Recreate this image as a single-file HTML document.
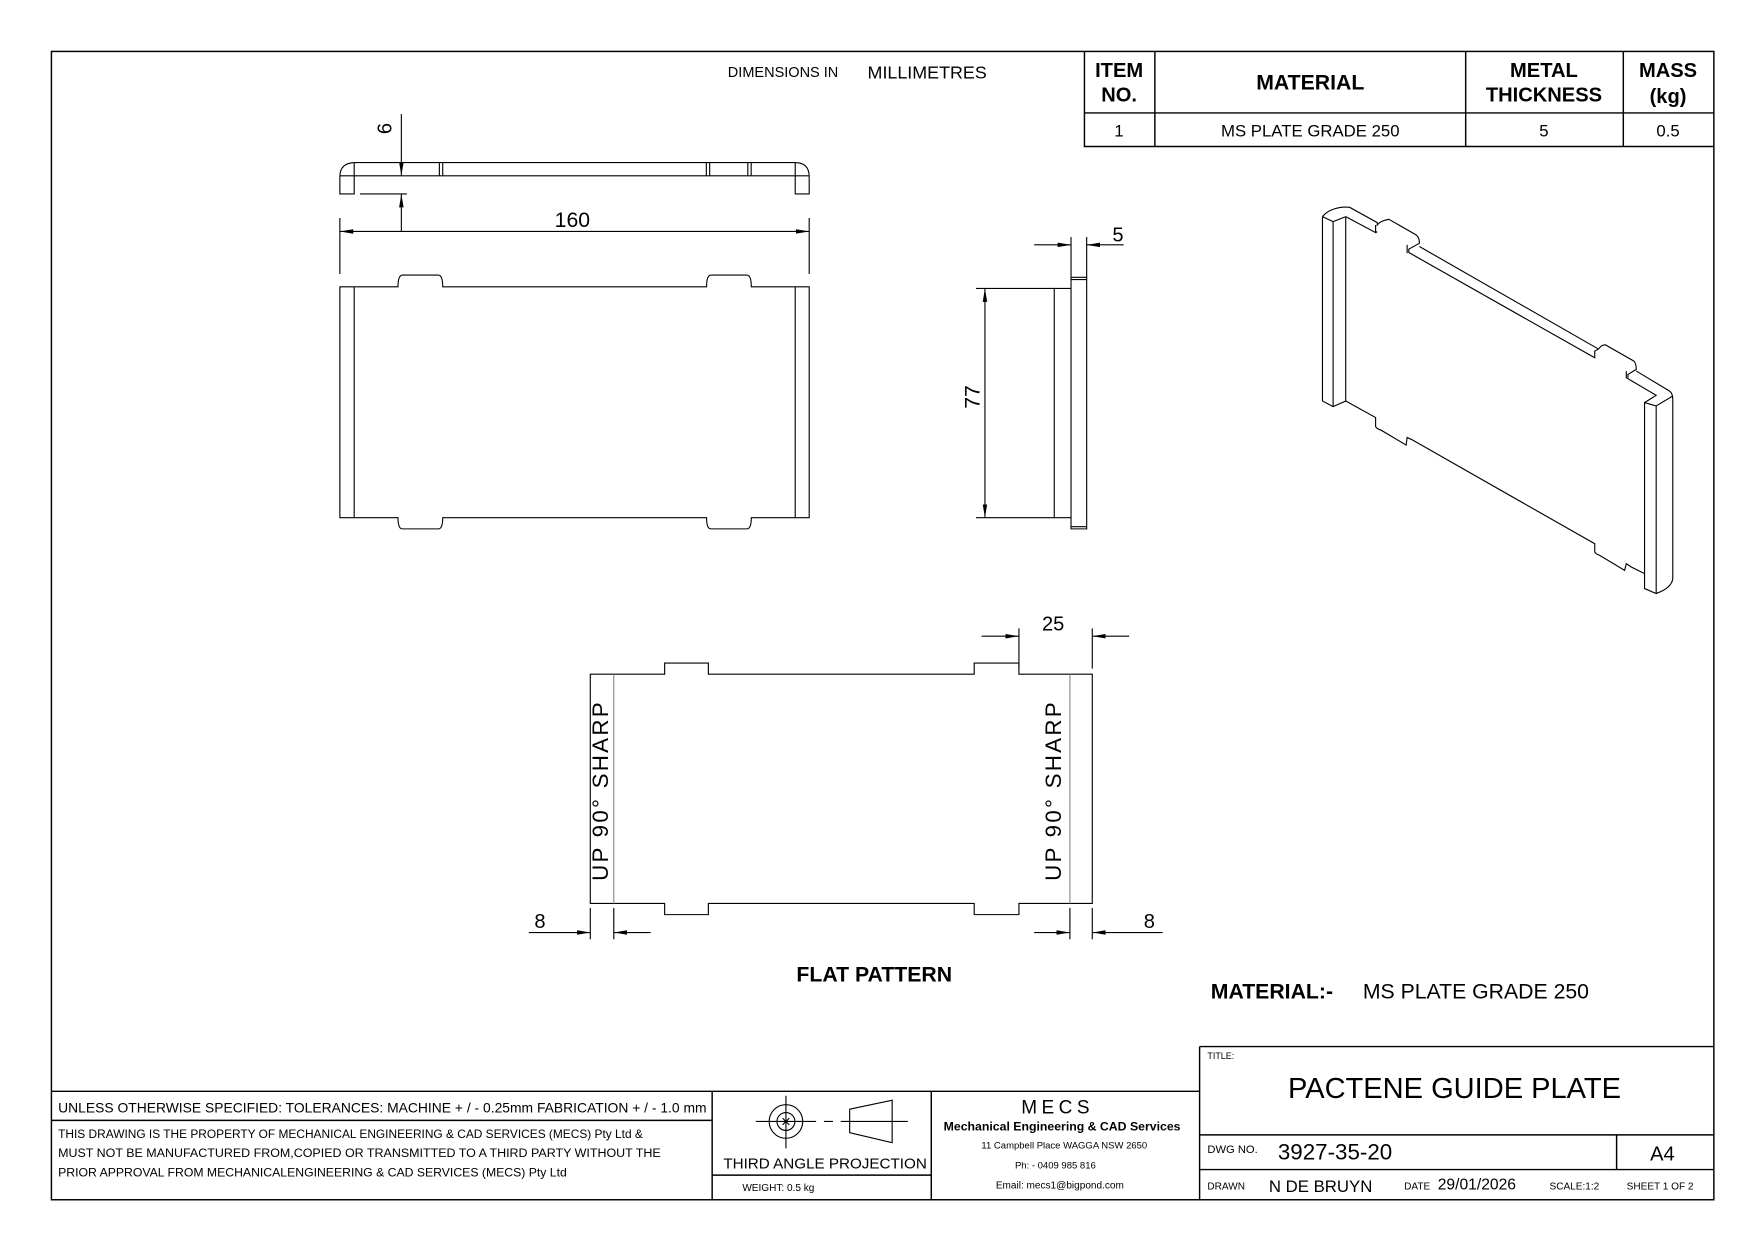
<!DOCTYPE html>
<html><head><meta charset="utf-8"><style>
html,body{margin:0;padding:0;background:#fff;}
svg{display:block;}
text{font-family:"Liberation Sans",sans-serif;fill:#000;}
.b{font-weight:bold;}
</style></head><body>
<svg width="1753" height="1240" viewBox="0 0 1568 1109" preserveAspectRatio="none" xmlns="http://www.w3.org/2000/svg">
<defs>
<marker id="ar" viewBox="0 0 12 6" refX="12" refY="3" markerWidth="12" markerHeight="6" markerUnits="userSpaceOnUse" orient="auto-start-reverse"><path d="M0,1 L12,3 L0,5 z" fill="#000"/></marker>
</defs>
<g fill="none" stroke="#000" stroke-width="1">
<rect x="46" y="46" width="1487" height="1027" stroke-width="1.3"/>
<path d="M970,46 V131 H1533 M970,101 H1533 M1033,46 V131 M1311,46 V131 M1452,46 V131" stroke-width="1.3"/>

<path d="M304,173.5 V158 Q304,145.4 318,145.4 H711 Q723.8,145.4 723.8,158 V173.5 H711.3 V157.2 H316.8 V173.5 Z"/>
<path d="M304,157.2 H316.8 M711.3,157.2 H723.8 M316.8,145.4 V157.2 M711.3,145.4 V157.2 M393,145.4 V157.2 M396,145.4 V157.2 M631.8,145.4 V157.2 M634.8,145.4 V157.2 M668.9,145.4 V157.2 M671.9,145.4 V157.2"/>
<path d="M359,102 V157.2" marker-end="url(#ar)"/>
<path d="M359,207 V173.5" marker-end="url(#ar)"/>
<path d="M322,173.5 H364"/>
<path d="M304,195 V245 M723.8,195 V245"/>
<path d="M304,207 H723.8" marker-start="url(#ar)" marker-end="url(#ar)"/>

<path d="M304,256.5 H356 Q356,246 360,246 H392 Q396,246 396,256.5 H632 Q632,246 636,246 H668 Q672,246 672,256.5 H723.8 V463 H672 Q672,473 668,473 H636 Q632,473 632,463 H396 Q396,473 392,473 H360 Q356,473 356,463 H304 Z"/>
<path d="M316.8,256.5 V463 M711.3,256.5 V463"/>

<path d="M958,248 H972 V473 H958 Z M943,258 H958 V463 H943 Z M958,250 H972 M958,471 H972"/>
<path d="M873,258 H943 M873,463 H943"/>
<path d="M881,258 V463" marker-start="url(#ar)" marker-end="url(#ar)"/>
<path d="M958,212 V248 M972,212 V248"/>
<path d="M925,219 H958" marker-end="url(#ar)"/>
<path d="M1005,219 H972" marker-end="url(#ar)"/>

<g transform="translate(1174,170) scale(0.297)" stroke-width="3.4">
<path d="M30,80 L30,635 L62,652 L100,635 L100,80 M62,95 L62,652 M30,80 L62,95 L100,80"/>
<path d="M30,80 C45,60 80,48 112,52 L195,98 L195,105 Q205,92 230,88 L312,135 Q322,142 322,160 L290,178 L290,188 L850,505 L850,485 L862,478 Q870,466 882,466 L968,515 Q975,522 975,540 L950,555 L950,565 M975,545 L1075,605 Q1085,612 1085,630 L1085,1170 Q1082,1198 1035,1215 L1000,1200 L1000,640 L1035,650 L1085,620 M1035,650 L1035,1215"/>
<path d="M100,80 L190,128 L190,105 M190,128 L195,125 M322,170 L860,478 M285,165 L285,190 M945,545 L945,565 L1035,618 L1000,640"/>
<path d="M100,635 L190,685 L190,712 Q195,720 205,722 L282,768 L285,745 L300,752 L850,1065 L850,1090 Q855,1097 865,1100 L940,1145 L945,1125 L960,1135 L1000,1155"/>
</g>

<path d="M528,603 H594.5 V593 H633.6 V603 H871.4 V593 H911.4 V603 H977 V808 H911.4 V818 H871.4 V808 H633.6 V818 H594.5 V808 H528 Z"/>
<path d="M549,603 V808 M957,603 V808" stroke="#888"/>
<path d="M911.4,562 V598 M977,562 V598"/>
<path d="M878,569 H911.4" marker-end="url(#ar)"/>
<path d="M1010,569 H977" marker-end="url(#ar)"/>
<path d="M528,812 V840 M549,812 V840 M957,812 V840 M977,812 V840"/>
<path d="M473,834 H528" marker-end="url(#ar)"/>
<path d="M582,834 H549" marker-end="url(#ar)"/>
<path d="M925,834 H957" marker-end="url(#ar)"/>
<path d="M1040,834 H977" marker-end="url(#ar)"/>

<path d="M1073,936 H1533 M1073,936 V1073 M46,976 H1073 M46,1002 H637 M637,976 V1073 M833,976 V1073 M637,1051 H833 M1073,1015 H1533 M1073,1046 H1533 M1446,1015 V1046" stroke-width="1.3"/>
<circle cx="703" cy="1003" r="15"/>
<circle cx="703" cy="1003" r="8"/>
<path d="M703,980 V1027 M676,1003 H730 M737,1003 H745 M752,1003 H812 M760,992 L798,984 V1022 L760,1013 Z M700,1000 L706,1006 M706,1000 L700,1006"/>
</g>

<text x="651" y="69" font-size="13">DIMENSIONS IN</text>
<text x="776" y="70" font-size="16">MILLIMETRES</text>
<g class="b" text-anchor="middle" font-size="18">
<text x="1001" y="69">ITEM</text><text x="1001" y="91">NO.</text>
<text x="1172" y="80" font-size="19">MATERIAL</text>
<text x="1381" y="69">METAL</text><text x="1381" y="91">THICKNESS</text>
<text x="1492" y="69">MASS</text><text x="1492" y="92">(kg)</text>
</g>
<g text-anchor="middle" font-size="15">
<text x="1001" y="122">1</text>
<text x="1172" y="122">MS PLATE GRADE 250</text>
<text x="1381" y="122">5</text>
<text x="1492" y="122">0.5</text>
</g>
<text x="350" y="115" font-size="18" text-anchor="middle" transform="rotate(-90 350 115)">6</text>
<text x="512" y="203" font-size="19" text-anchor="middle">160</text>
<text x="1000" y="216" font-size="18" text-anchor="middle">5</text>
<text x="876" y="355" font-size="19" text-anchor="middle" transform="rotate(-90 876 355)">77</text>
<text x="942" y="564" font-size="18" text-anchor="middle">25</text>
<text x="483" y="830" font-size="18" text-anchor="middle">8</text>
<text x="1028" y="830" font-size="18" text-anchor="middle">8</text>
<text x="544" y="707" font-size="20" text-anchor="middle" letter-spacing="2" transform="rotate(-90 544 707)">UP 90° SHARP</text>
<text x="949" y="707" font-size="20" text-anchor="middle" letter-spacing="2" transform="rotate(-90 949 707)">UP 90° SHARP</text>
<text x="782" y="878" font-size="19" class="b" text-anchor="middle">FLAT PATTERN</text>
<text x="1083" y="893" font-size="19" class="b">MATERIAL:-</text>
<text x="1219" y="893" font-size="19">MS PLATE GRADE 250</text>

<text x="52" y="995" font-size="12" textLength="580" lengthAdjust="spacingAndGlyphs">UNLESS OTHERWISE SPECIFIED: TOLERANCES: MACHINE + / - 0.25mm  FABRICATION + / - 1.0 mm</text>
<text x="52" y="1018" font-size="10.5" textLength="523" lengthAdjust="spacingAndGlyphs">THIS DRAWING IS THE PROPERTY OF MECHANICAL ENGINEERING &amp; CAD SERVICES (MECS) Pty Ltd &amp;</text>
<text x="52" y="1035" font-size="10.5" textLength="539" lengthAdjust="spacingAndGlyphs">MUST NOT BE MANUFACTURED FROM,COPIED OR TRANSMITTED TO A THIRD PARTY WITHOUT THE</text>
<text x="52" y="1052" font-size="10.5" textLength="455" lengthAdjust="spacingAndGlyphs">PRIOR APPROVAL FROM MECHANICALENGINEERING &amp; CAD SERVICES (MECS) Pty Ltd</text>
<text x="647" y="1045" font-size="13" textLength="182" lengthAdjust="spacingAndGlyphs">THIRD ANGLE PROJECTION</text>
<text x="664" y="1065" font-size="9">WEIGHT: 0.5 kg</text>
<g text-anchor="middle">
<text x="946" y="996" font-size="17" letter-spacing="4">MECS</text>
<text x="950" y="1011" font-size="11" class="b">Mechanical Engineering &amp; CAD Services</text>
<text x="952" y="1027" font-size="8.5">11 Campbell Place WAGGA NSW 2650</text>
<text x="944" y="1045" font-size="8.5">Ph: - 0409 985 816</text>
<text x="948" y="1063" font-size="9">Email: mecs1@bigpond.com</text>
<text x="1301" y="982" font-size="26">PACTENE GUIDE PLATE</text>
</g>
<text x="1080" y="947" font-size="8">TITLE:</text>
<text x="1080" y="1031" font-size="10">DWG NO.</text>
<text x="1143" y="1037" font-size="20">3927-35-20</text>
<text x="1476" y="1038" font-size="18">A4</text>
<text x="1080" y="1064" font-size="9">DRAWN</text>
<text x="1135" y="1066" font-size="15">N DE BRUYN</text>
<text x="1256" y="1064" font-size="9">DATE</text>
<text x="1286" y="1064" font-size="14">29/01/2026</text>
<text x="1386" y="1064" font-size="9">SCALE:1:2</text>
<text x="1455" y="1064" font-size="9">SHEET 1 OF 2</text>
</svg>
</body></html>
